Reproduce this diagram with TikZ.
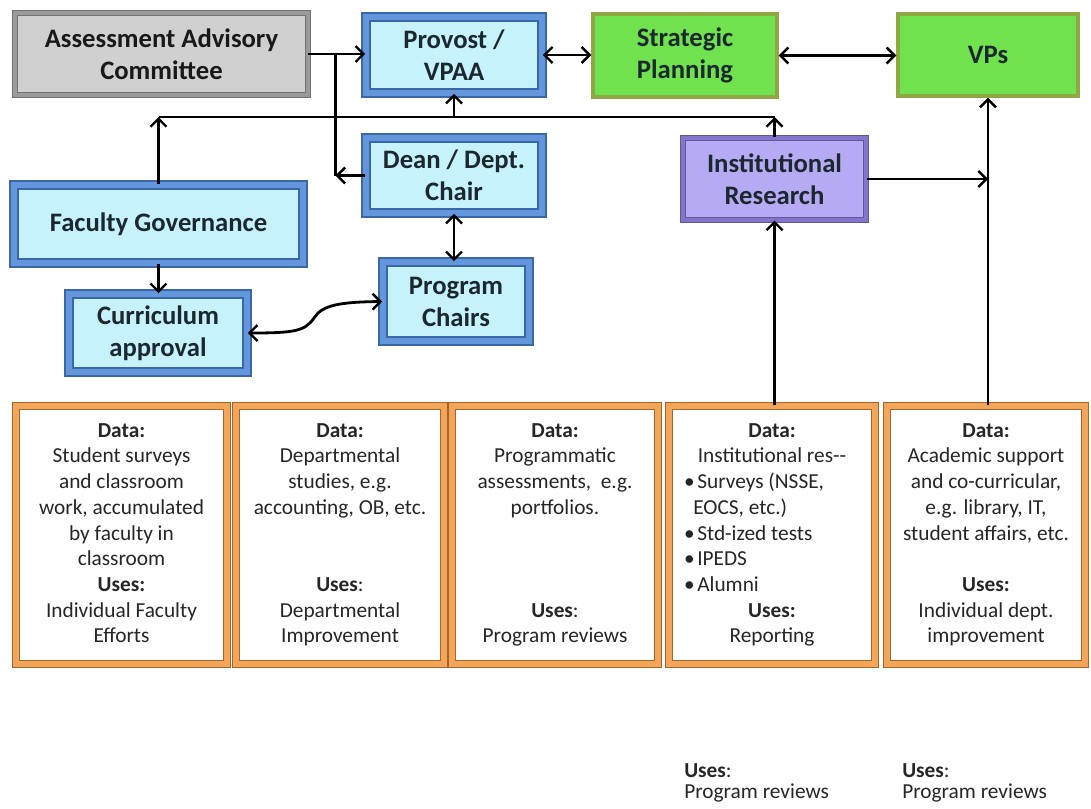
\documentclass[tikz,border=0pt]{standalone}
\usepackage{fontspec}
\setmainfont{Carlito}
\usetikzlibrary{arrows.meta,fit}
\definecolor{bband}{HTML}{6496DC}
\definecolor{bedge}{HTML}{3A66AA}
\definecolor{bfill}{HTML}{C6F2FB}
\definecolor{gfill}{HTML}{D0D0D0}
\definecolor{gedge}{HTML}{9A9A9A}
\definecolor{grfill}{HTML}{6FE24E}
\definecolor{gredge}{HTML}{8FA844}
\definecolor{pfill}{HTML}{B5AAF3}
\definecolor{pedge}{HTML}{8474CC}
\definecolor{oband}{HTML}{F3A55A}
\definecolor{oedge}{HTML}{A8652A}
\definecolor{txt}{HTML}{1C2830}
\tikzset{
  lbl/.style={inner sep=0pt, align=center, font=\fontsize{20}{24}\selectfont\bfseries, text=txt},
  bluebox/.style={inner sep=0pt, fill=bfill, draw=bedge, double=bband, double distance=5pt, line width=1.2pt},
  graybox/.style={inner sep=0pt, fill=gfill, draw=gedge!75!black, double=gedge, double distance=3pt, line width=0.7pt},
  greenbox/.style={inner sep=0pt, fill=grfill, draw=gredge, line width=2.5pt},
  purplebox/.style={inner sep=0pt, fill=pfill, draw=pedge!75!black, double=pedge, double distance=3.5pt, line width=0.8pt},
  databox/.style={inner sep=0pt, fill=white, draw=oedge, double=oband, double distance=4.5pt, line width=0.8pt},
  datatext/.style={inner sep=0pt, align=center, font=\fontsize{16}{19.3}\selectfont, text=black!85, anchor=north},
  plain/.style={inner sep=0pt, font=\fontsize{16}{19.3}\selectfont, text=black!85, anchor=base west},
  ln/.style={line width=2.1pt},
  arr/.style={line width=2.1pt, -{Straight Barb[length=6pt,width=12pt,line width=1.8pt]}},
  darr/.style={line width=2.1pt, {Straight Barb[length=6pt,width=12pt,line width=1.8pt]}-{Straight Barb[length=6pt,width=12pt,line width=1.8pt]}}
}
\begin{document}
\begin{tikzpicture}[x=0.75pt,y=-0.75pt]
\useasboundingbox[fill=white] (0,0) rectangle (1091,808);
% top boxes
\node[graybox, fit={(15,13) (308,95)}] (aac) {};
\node[bluebox, fit={(366,17) (542,93)}] (prov) {};
\node[greenbox, fit={(593,14) (777,97)}] (strat) {};
\node[greenbox, fit={(898,14) (1078,96)}] (vps) {};
\node[bluebox, fit={(366,138) (542,213)}] (dean) {};
\node[purplebox, fit={(683,138) (866,220)}] (ir) {};
\node[bluebox, fit={(14,185) (303,263)}] (fg) {};
\node[bluebox, fit={(69,294) (247,372)}] (curr) {};
\node[bluebox, fit={(383,262) (529,341)}] (pc) {};
\node[lbl, text=black!90] (laac) at (aac.center) {Assessment Advisory\\Committee};
\node[lbl] (lprov) at (prov.center) {Provost /\\VPAA};
\node[lbl] (lstrat) at (strat.center) {Strategic\\Planning};
\node[lbl] (lvps) at (vps.center) {VPs};
\node[lbl] (ldean) at (dean.center) {Dean / Dept.\\Chair};
\node[lbl] (lir) at (ir.center) {Institutional\\Research};
\node[lbl] (lfg) at (fg.center) {Faculty Governance};
\node[lbl] (lcurr) at (curr.center) {Curriculum\\approval};
\node[lbl] (lpc) at (pc.center) {Program\\Chairs};
% data boxes
\node[databox, fit={(16,406) (227,664)}] (d1) {};
\node[databox, fit={(236,406) (444,664)}] (d2) {};
\node[databox, fit={(452,406) (658,664)}] (d3) {};
\node[databox, fit={(669,406) (875,664)}] (d4) {};
\node[databox, fit={(887,406) (1085,664)}] (d5) {};
\coordinate (trow) at (0,423);
\node[datatext] (t1) at (d1 |- trow) {\textbf{Data:}\\Student surveys\\and classroom\\work, accumulated\\by faculty in\\classroom\\\textbf{Uses:}\\Individual Faculty\\Efforts};
\node[datatext] (t2) at (d2 |- trow) {\textbf{Data:}\\Departmental\\studies, e.g.\\accounting, OB, etc.\\\mbox{}\\\mbox{}\\\textbf{Uses}:\\Departmental\\Improvement};
\node[datatext] (t3) at (d3 |- trow) {\textbf{Data:}\\Programmatic\\assessments,\ \ e.g.\\portfolios.\\\mbox{}\\\mbox{}\\\mbox{}\\\textbf{Uses}:\\Program reviews};
\node[datatext] (t4) at (d4 |- trow) {\textbf{Data:}\\Institutional res-{}-\\\makebox[132pt][l]{•\hspace{2pt}Surveys (NSSE,}\\\makebox[132pt][l]{\hspace{7pt}EOCS, etc.)}\\\makebox[132pt][l]{•\hspace{2pt}Std-ized tests}\\\makebox[132pt][l]{•\hspace{2pt}IPEDS}\\\makebox[132pt][l]{•\hspace{2pt}Alumni}\\\textbf{Uses:}\\Reporting};
\node[datatext] (t5) at (d5 |- trow) {\textbf{Data:}\\Academic support\\and co-curricular,\\e.g. library, IT,\\student affairs, etc.\\\mbox{}\\\textbf{Uses:}\\Individual dept.\\improvement};
% bottom texts
\node[plain] (u1) at (684,777) {\textbf{Uses}:};
\node[plain] (p1) at (684,798) {Program reviews};
\node[plain] (u2) at (902,777) {\textbf{Uses}:};
\node[plain] (p2) at (902,798) {Program reviews};
% connectors
\draw[arr] (aac.east) -- (aac.east -| prov.west);
\path (aac.east) ++(27,0) coordinate (j1);
\coordinate (j2) at (j1 |- dean.west);
\draw[ln] (j1) -- (j2);
\draw[arr] (dean.west) -- (j2);
\draw[darr] (prov.east) -- (prov.east -| strat.west);
\draw[darr] (strat.east) -- (strat.east -| vps.west);
\coordinate (bus) at (0,117);
\draw[ln] (fg.north |- bus) -- (ir.north |- bus);
\draw[arr] (fg.north) -- (fg.north |- bus);
\draw[arr] (ir.north) -- (ir.north |- bus);
\draw[arr] (prov.south |- bus) -- (prov.south);
\draw[darr] (dean.south) -- (dean.south |- pc.north);
\draw[arr] (fg.south) -- (fg.south |- curr.north);
\draw[darr] (curr.east) .. controls (295,333) and (305,331) .. (314,318) .. controls (322,305) and (340,302) .. (pc.west);
\draw[arr] (ir.east) -- (ir.east -| vps.south);
\draw[arr] (vps.south |- d5.north) -- (vps.south);
\draw[arr] (ir.south |- d4.north) -- (ir.south);
\end{tikzpicture}
\end{document}
